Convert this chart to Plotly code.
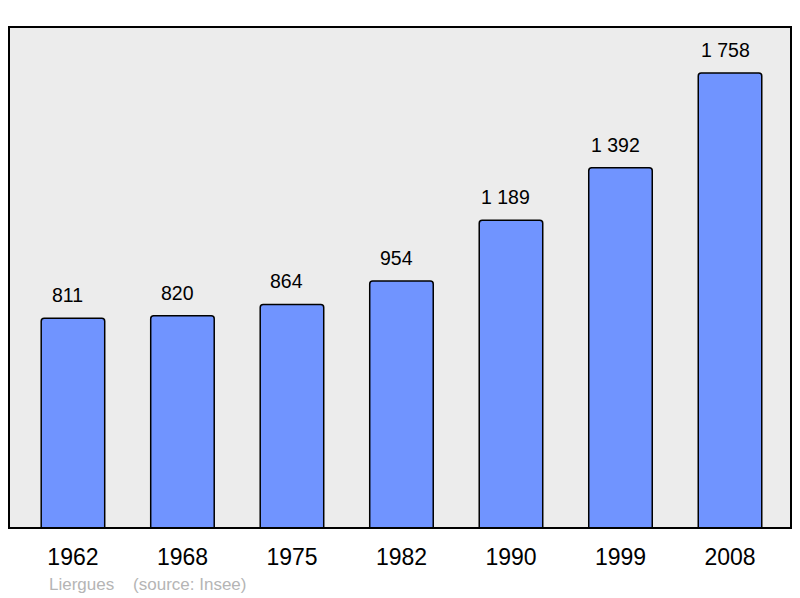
import plotly.graph_objects as go

years = ["1962", "1968", "1975", "1982", "1990", "1999", "2008"]
population = [811, 820, 864, 954, 1189, 1392, 1758]
town = "Liergues"
source = "(source: Insee)"

labels = [f"{v:,}".replace(",", " ") for v in population]
xpos = list(range(len(years)))

fig = go.Figure()
fig.add_trace(go.Bar(
    x=xpos, y=population, width=0.58,
    marker=dict(color="#7094ff", line=dict(color="#000000", width=1.5), cornerradius=3),
    hoverinfo="skip",
))
for x, v, t in zip(xpos, population, labels):
    fig.add_annotation(x=x, y=v, text=t, showarrow=False, yanchor="bottom", yshift=10, xshift=-5,
                       font=dict(size=19.5, color="#000000", family="Liberation Sans, Arial, sans-serif"))

fig.add_annotation(xref="paper", yref="paper", x=(47 - 9) / 782, y=-(584 - 528) / 501,
                   xanchor="left", yanchor="middle", showarrow=False,
                   text=f"{town}&nbsp;&nbsp;&nbsp;&nbsp;{source}",
                   font=dict(size=17, color="#b5b5b5", family="Liberation Sans, Arial, sans-serif"))

fig.add_shape(type="rect", xref="paper", yref="paper", x0=0, y0=0, x1=1, y1=1,
              line=dict(color="#000000", width=2), layer="above")

fig.update_layout(
    width=792, height=590,
    margin=dict(l=1, r=9, t=19, b=70),
    paper_bgcolor="#ffffff", plot_bgcolor="#ececec",
    showlegend=False,
    font=dict(family="Liberation Sans, Arial, sans-serif"),
    xaxis=dict(range=[-0.584, 6.557], tickvals=xpos, ticktext=years, showgrid=False, zeroline=False,
               ticks="outside", ticklen=8, tickcolor="rgba(0,0,0,0)",
               tickfont=dict(size=23, color="#000000"), fixedrange=True),
    yaxis=dict(range=[0, 1936], showticklabels=False, showgrid=False, zeroline=False, fixedrange=True),
)

fig.write_html("out.html")
